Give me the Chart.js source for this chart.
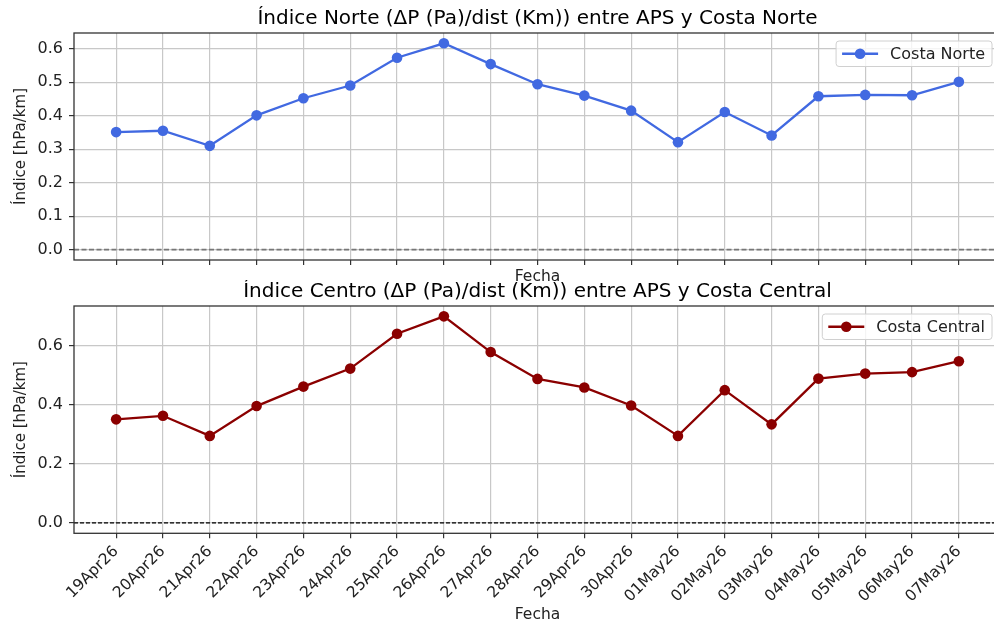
<!DOCTYPE html>
<html lang="es">
  <head>
    <meta charset="UTF-8" />
    <title>Índices Norte y Centro</title>
    <script src="https://cdn.jsdelivr.net/npm/chart.js@4"></script>
    <style>
      html, body { margin: 0; padding: 0; background: #fff; overflow: hidden; }
      .wrap { position: relative; width: 994px; height: 627px; overflow: hidden; }
      #chartNorte { position: absolute; left: 0; top: 0; }
      #chartCentro { position: absolute; left: 0; top: 280px; }
    </style>
  </head>
  <body>
    <div class="wrap">
      <canvas id="chartNorte" width="1010" height="290"></canvas>
      <canvas id="chartCentro" width="1010" height="347"></canvas>
    </div>

    <script>
      var fechas = [
        "19Apr26", "20Apr26", "21Apr26", "22Apr26", "23Apr26", "24Apr26",
        "25Apr26", "26Apr26", "27Apr26", "28Apr26", "29Apr26", "30Apr26",
        "01May26", "02May26", "03May26", "04May26", "05May26", "06May26", "07May26",
      ];
      var norte = [
        0.351, 0.355, 0.310, 0.401, 0.452, 0.490, 0.573, 0.616, 0.554, 0.494,
        0.460, 0.415, 0.321, 0.411, 0.341, 0.458, 0.462, 0.461, 0.501,
      ];
      var centro = [
        0.351, 0.363, 0.295, 0.396, 0.462, 0.523, 0.641, 0.700, 0.579, 0.488,
        0.459, 0.398, 0.295, 0.450, 0.334, 0.489, 0.506, 0.511, 0.548,
      ];
      var ticksNorte = [0, 0.1, 0.2, 0.3, 0.4, 0.5, 0.6];
      var ticksCentro = [0, 0.2, 0.4, 0.6];

      Chart.defaults.font.family = '"DejaVu Sans", sans-serif';
      Chart.defaults.color = "#222";

      // title centred over the plot area, not the whole canvas
      var axesTitle = {
        id: "axesTitle",
        afterDraw: function (chart, args, opts) {
          var ctx = chart.ctx, a = chart.chartArea;
          ctx.save();
          ctx.font = '20px "DejaVu Sans"';
          ctx.fillStyle = "#000";
          ctx.textAlign = "center";
          ctx.textBaseline = "alphabetic";
          ctx.fillText(opts.text, (a.left + a.right) / 2, opts.baseline);
          ctx.restore();
        },
      };

      // zero reference line across the whole axes
      var zeroLine = {
        id: "zeroLine",
        beforeDatasetsDraw: function (chart, args, opts) {
          var ctx = chart.ctx, a = chart.chartArea;
          var y = chart.scales.y.getPixelForValue(0);
          ctx.save();
          ctx.strokeStyle = opts.color;
          ctx.lineWidth = opts.width;
          ctx.setLineDash(opts.dash);
          ctx.beginPath();
          ctx.moveTo(a.left, y);
          ctx.lineTo(a.right, y);
          ctx.stroke();
          ctx.restore();
        },
      };

      // box around the plot (matplotlib spines)
      var frame = {
        id: "frame",
        afterDatasetsDraw: function (chart) {
          var ctx = chart.ctx, a = chart.chartArea;
          ctx.save();
          ctx.strokeStyle = "#333";
          ctx.lineWidth = 1.3;
          ctx.strokeRect(a.left, a.top, a.right - a.left, a.bottom - a.top);
          ctx.restore();
        },
      };

      // legend: line + marker, upper right
      var legendBox = {
        id: "legendBox",
        afterDraw: function (chart) {
          var ctx = chart.ctx, a = chart.chartArea;
          var ds = chart.data.datasets[0];
          ctx.save();
          ctx.font = '16px "DejaVu Sans"';
          var tw = ctx.measureText(ds.label).width;
          var w = 6 + 36 + 12 + tw + 7, h = 25.5;
          var x = a.right - 9 - w, y = a.top + 8;
          ctx.beginPath();
          ctx.roundRect(x, y, w, h, 3);
          ctx.fillStyle = "rgba(255,255,255,0.8)";
          ctx.fill();
          ctx.strokeStyle = "#d0d0d0";
          ctx.lineWidth = 1;
          ctx.stroke();
          var cy = y + h / 2;
          ctx.strokeStyle = ds.borderColor;
          ctx.lineWidth = ds.borderWidth;
          ctx.beginPath();
          ctx.moveTo(x + 6, cy);
          ctx.lineTo(x + 42, cy);
          ctx.stroke();
          ctx.fillStyle = ds.borderColor;
          ctx.beginPath();
          ctx.arc(x + 24, cy, ds.pointRadius, 0, Math.PI * 2);
          ctx.fill();
          ctx.fillStyle = "#222";
          ctx.textBaseline = "middle";
          ctx.fillText(ds.label, x + 54, cy + 1);
          ctx.restore();
        },
      };

      function makeChart(id, opt) {
        var n = fechas.length;
        var vals = opt.values;
        var lo = Math.min(0, Math.min.apply(null, vals));
        var hi = Math.max(0, Math.max.apply(null, vals));
        var pad = (hi - lo) * 0.05;
        var pts = vals.map(function (v, i) {
          return { x: i, y: v };
        });

        return new Chart(document.getElementById(id), {
          type: "line",
          data: {
            datasets: [
              {
                label: opt.label,
                data: pts,
                borderColor: opt.color,
                backgroundColor: opt.color,
                borderWidth: 2.3,
                pointRadius: 5.3,
                pointHoverRadius: 5.3,
                pointBorderWidth: 0,
                tension: 0,
              },
            ],
          },
          options: {
            responsive: false,
            animation: false,
            devicePixelRatio: 1,
            layout: { padding: { left: 0, right: 9, top: opt.top, bottom: 0 } },
            plugins: {
              legend: { display: false },
              tooltip: { enabled: false },
              title: { display: false },
              axesTitle: { text: opt.title, baseline: opt.titleBase },
              zeroLine: opt.zero,
            },
            scales: {
              x: {
                type: "linear",
                min: -0.05 * (n - 1),
                max: (n - 1) * 1.05,
                afterBuildTicks: function (s) {
                  s.ticks = fechas.map(function (f, i) {
                    return { value: i };
                  });
                },
                afterFit: function (s) {
                  s.height = opt.xHeight;
                  s.paddingLeft = 0;
                  s.paddingRight = 0;
                },
                grid: {
                  color: "#c8c8c8",
                  lineWidth: 1.2,
                  tickColor: "#333",
                  tickLength: 5,
                  tickWidth: 1.2,
                },
                border: { display: false },
                ticks: {
                  display: opt.showX,
                  autoSkip: false,
                  minRotation: 45,
                  maxRotation: 45,
                  padding: 4,
                  font: { size: 15.5 },
                  callback: function (v) {
                    return fechas[v];
                  },
                },
                title: {
                  display: true,
                  text: "Fecha",
                  font: { size: 15.5 },
                  padding: { top: 0, bottom: opt.fechaPad },
                },
              },
              y: {
                min: lo - pad,
                max: hi + pad,
                afterBuildTicks: function (s) {
                  s.ticks = opt.yTicks.map(function (v) {
                    return { value: v };
                  });
                },
                afterFit: function (s) {
                  s.width = 74;
                  s.paddingTop = 0;
                  s.paddingBottom = 0;
                },
                grid: {
                  color: "#c8c8c8",
                  lineWidth: 1.2,
                  tickColor: "#333",
                  tickLength: 5,
                  tickWidth: 1.2,
                },
                border: { display: false },
                ticks: {
                  padding: 6,
                  font: { size: 16 },
                  callback: function (v) {
                    return v.toFixed(1);
                  },
                },
                title: {
                  display: true,
                  text: "Índice [hPa/km]",
                  font: { size: 15 },
                  padding: { top: 12, bottom: 0 },
                },
              },
            },
          },
          plugins: [zeroLine, frame, axesTitle, legendBox],
        });
      }

      makeChart("chartNorte", {
        title: "Índice Norte (ΔP (Pa)/dist (Km)) entre APS y Costa Norte",
        label: "Costa Norte",
        values: norte,
        color: "#4169e1",
        yTicks: ticksNorte,
        showX: false,
        top: 33,
        titleBase: 24,
        xHeight: 30,
        fechaPad: 4,
        zero: { color: "#777", width: 1.8, dash: [5, 2.5] },
      });

      makeChart("chartCentro", {
        title: "Índice Centro (ΔP (Pa)/dist (Km)) entre APS y Costa Central",
        label: "Costa Central",
        values: centro,
        color: "#8b0000",
        yTicks: ticksCentro,
        showX: true,
        top: 26,
        titleBase: 17,
        xHeight: 93.7,
        fechaPad: 3,
        zero: { color: "#000", width: 1.2, dash: [4, 2] },
      });
    </script>
  </body>
</html>
